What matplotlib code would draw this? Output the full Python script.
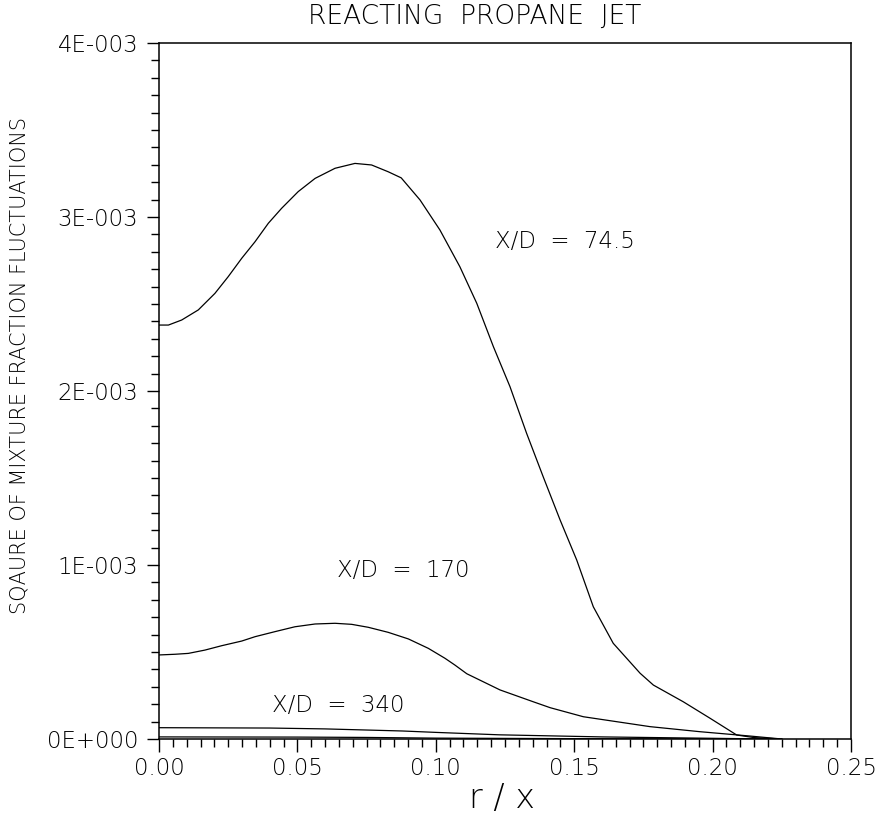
import matplotlib
matplotlib.use("Agg")
import matplotlib.pyplot as plt
from matplotlib.ticker import MultipleLocator, FixedLocator, FixedFormatter

# ---- data (y values in units of 1E-3) ----
x_745 = [0.0, 0.0034, 0.0082, 0.0142, 0.0202, 0.0250, 0.0299, 0.0347, 0.0395,
         0.0443, 0.0503, 0.0564, 0.0636, 0.0708, 0.0768, 0.0828, 0.0875, 0.0943,
         0.1015, 0.1087, 0.1148, 0.1208, 0.1268, 0.1328, 0.1388, 0.1449, 0.1509,
         0.1569, 0.1641, 0.1738, 0.1786, 0.1894, 0.1991, 0.2087, 0.2150, 0.2250]
y_745 = [2.379, 2.379, 2.408, 2.466, 2.561, 2.657, 2.763, 2.858, 2.964,
         3.050, 3.146, 3.222, 3.280, 3.308, 3.299, 3.260, 3.225, 3.098,
         2.925, 2.714, 2.504, 2.255, 2.025, 1.757, 1.507, 1.259, 1.029,
         0.760, 0.550, 0.378, 0.310, 0.214, 0.119, 0.023, 0.008, 0.0]

x_170 = [0.0, 0.0058, 0.0106, 0.0166, 0.0226, 0.0299, 0.0347, 0.0419, 0.0491,
         0.0564, 0.0636, 0.0696, 0.0756, 0.0828, 0.0901, 0.0973, 0.1033, 0.1069,
         0.1112, 0.1232, 0.1352, 0.1413, 0.1533, 0.1774, 0.1954, 0.2135, 0.225]
y_170 = [0.483, 0.487, 0.492, 0.511, 0.536, 0.563, 0.588, 0.617, 0.645,
         0.661, 0.665, 0.659, 0.642, 0.613, 0.575, 0.521, 0.464, 0.425,
         0.375, 0.282, 0.214, 0.180, 0.128, 0.071, 0.042, 0.017, 0.0]

x_340 = [0.0, 0.04, 0.06, 0.088, 0.10, 0.123, 0.16, 0.20, 0.22]
y_340 = [0.065, 0.063, 0.058, 0.046, 0.038, 0.024, 0.012, 0.004, 0.0]

x_far = [0.0, 0.05, 0.075, 0.10, 0.15, 0.20, 0.22]
y_far = [0.012, 0.011, 0.009, 0.005, 0.002, 0.0005, 0.0]

curve_labels = ["X/D  =  74.5", "X/D  =  170", "X/D  =  340"]
label_pos = [(0.1214, 2.862), (0.0642, 0.966), (0.0407, 0.195)]

ytick_vals = [0, 1, 2, 3, 4]
ytick_labels = ["0E+000", "1E-003", "2E-003", "3E-003", "4E-003"]
xtick_vals = [0.00, 0.05, 0.10, 0.15, 0.20, 0.25]
xtick_labels = ["0.00", "0.05", "0.10", "0.15", "0.20", "0.25"]

W, H = 875, 821
fig = plt.figure(figsize=(W / 100, H / 100), dpi=100)
ax = fig.add_axes([159 / W, (H - 739) / H, 692 / W, 696 / H])

lw = 0.9
for xs, ys in [(x_745, y_745), (x_170, y_170), (x_340, y_340), (x_far, y_far)]:
    ax.plot(xs, ys, color="black", lw=lw)

for txt, (tx, ty) in zip(curve_labels, label_pos):
    ax.text(tx, ty, txt, fontsize=16.5, ha="left", va="center", color="black",
            fontweight="light")

ax.set_xlim(0, 0.25)
ax.set_ylim(0, 4)
ax.xaxis.set_major_locator(FixedLocator(xtick_vals))
ax.xaxis.set_major_formatter(FixedFormatter(xtick_labels))
ax.xaxis.set_minor_locator(MultipleLocator(0.005))
ax.yaxis.set_major_locator(FixedLocator(ytick_vals))
ax.yaxis.set_major_formatter(FixedFormatter(ytick_labels))
ax.yaxis.set_minor_locator(MultipleLocator(0.1))

ax.tick_params(axis="both", which="major", direction="out", length=9, width=1.0,
               labelsize=16.5, top=False, right=False)
ax.tick_params(axis="both", which="minor", direction="out", length=5.5, width=1.0,
               top=False, right=False)
ax.tick_params(axis="x", which="major", pad=4)
ax.tick_params(axis="y", which="major", pad=6)
for lab in ax.get_xticklabels() + ax.get_yticklabels():
    lab.set_fontweight("light")

for sp in ax.spines.values():
    sp.set_linewidth(1.1)

fig.text(475 / W, 1 - 16 / H, "REACTING  PROPANE  JET", fontsize=19,
         ha="center", va="center", fontweight="light")
fig.text(502 / W, 1 - 798 / H, "r / x", fontsize=24, ha="center", va="center",
         fontweight="light")
fig.text(20 / W, 1 - 366 / H, "SQAURE OF MIXTURE FRACTION FLUCTUATIONS",
         fontsize=15, rotation=90, ha="center", va="center", fontweight="light")

fig.savefig("out.png", dpi=100)
